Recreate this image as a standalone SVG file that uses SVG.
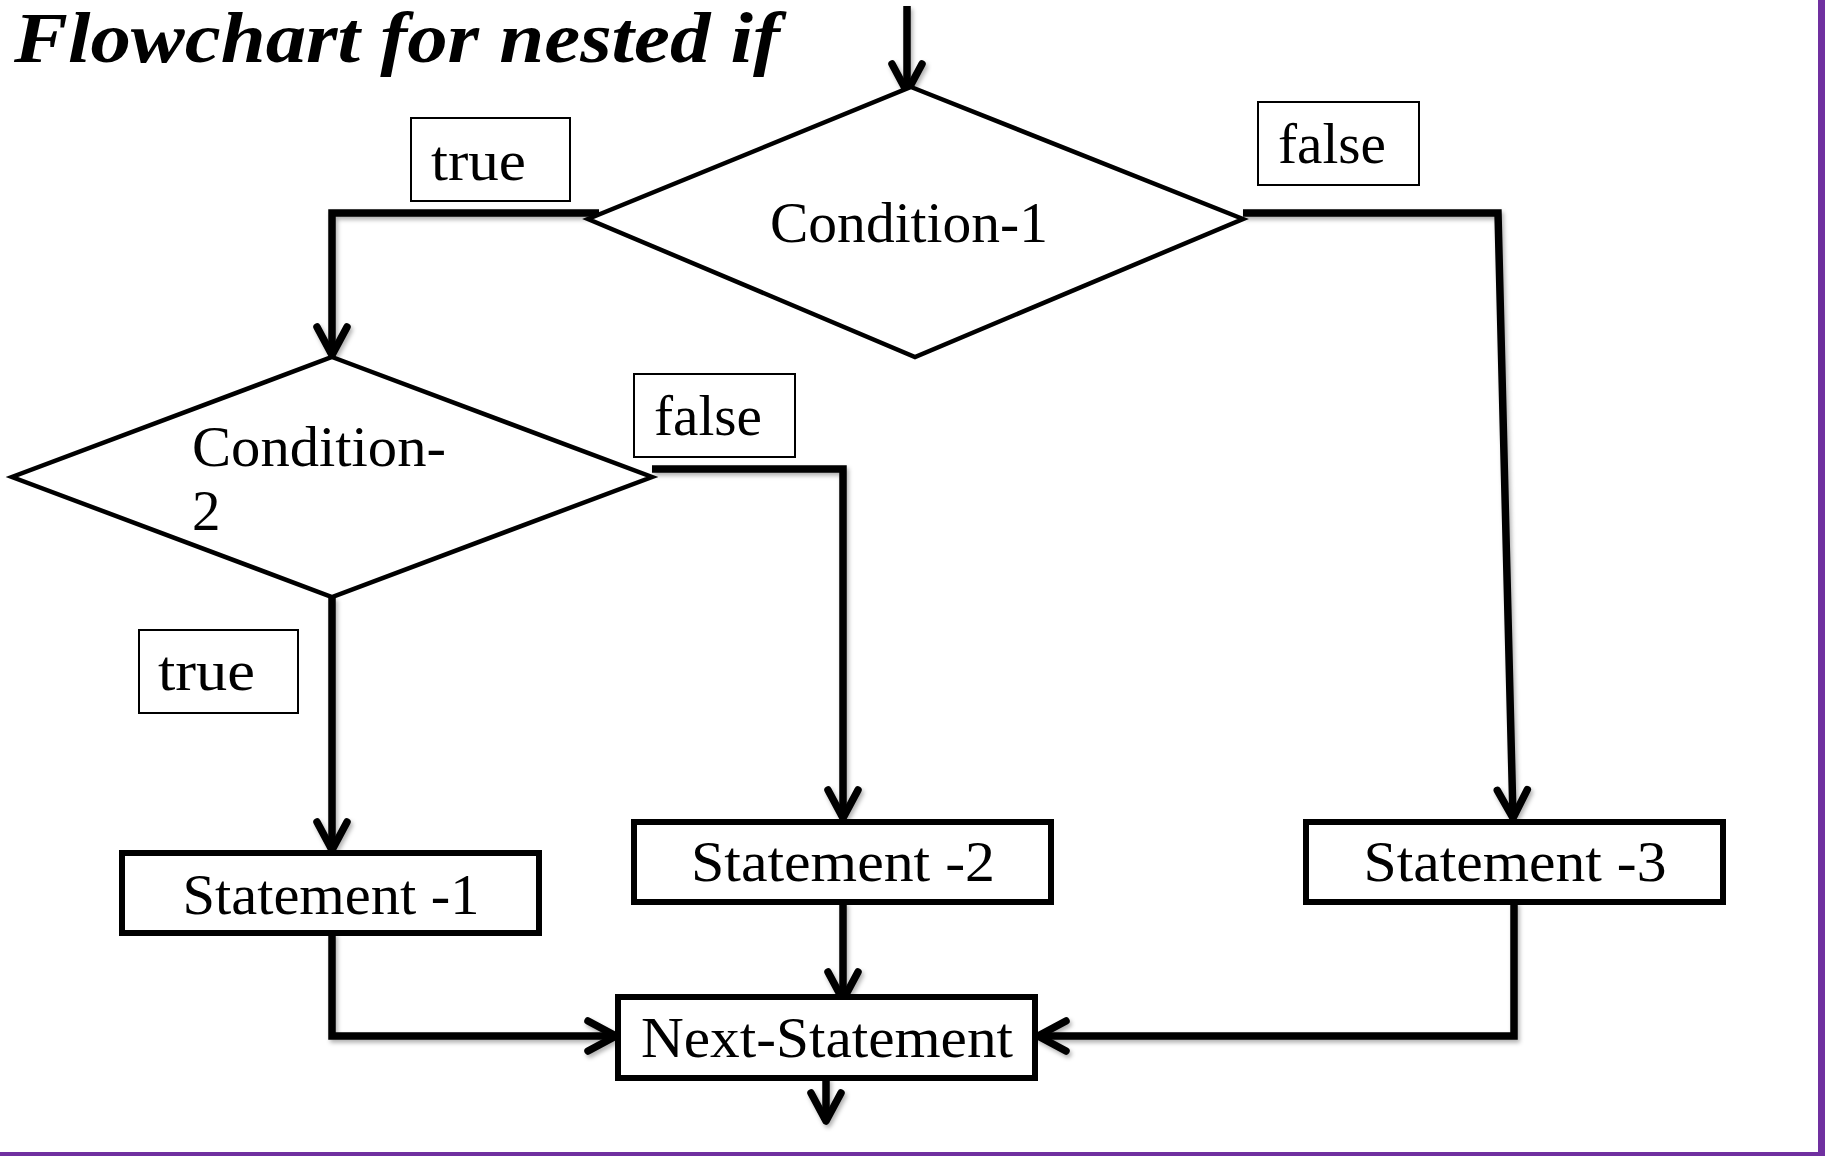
<svg xmlns="http://www.w3.org/2000/svg" width="1825" height="1156" viewBox="0 0 1825 1156">
  <style>
    .title { font-family: "Liberation Serif", "DejaVu Serif", serif; font-weight: bold; font-style: italic; font-size: 72px; fill: #000; }
    .txt { font-family: "Liberation Serif", "DejaVu Serif", serif; font-size: 57px; fill: #000; }
    .mid { text-anchor: middle; }
    .dia { fill: #fff; stroke: #000; stroke-width: 4.5; stroke-linejoin: miter; }
    .box { fill: #fff; stroke: #000; stroke-width: 6; }
    .lbl { fill: #fff; stroke: #000; stroke-width: 2; }
    .wire { fill: none; stroke: #000; stroke-width: 7.5; stroke-linejoin: miter; stroke-linecap: butt; }
    .arrow { marker-end: url(#head); }
  </style>
  <defs>
    <marker id="head" markerUnits="userSpaceOnUse" viewBox="-36 -22 44 44" refX="0" refY="0" markerWidth="44" markerHeight="44" orient="auto" overflow="visible">
      <path d="M-28,-15 L0,0 L-28,15" fill="none" stroke="#000" stroke-width="7.5" stroke-linecap="round" stroke-linejoin="round"/>
    </marker>
    <filter id="shade" x="-10%" y="-10%" width="120%" height="120%">
      <feDropShadow dx="2" dy="3" stdDeviation="2" flood-color="#000" flood-opacity="0.3"/>
    </filter>
  </defs>

  <rect width="1825" height="1156" fill="#fff"/>

  <!-- page frame edges -->
  <rect x="1818" y="0" width="7" height="1156" fill="#7030a0"/>
  <rect x="0" y="1152" width="1825" height="4" fill="#7030a0"/>

  <text class="title" x="14" y="62" textLength="766" lengthAdjust="spacingAndGlyphs">Flowchart for nested if</text>

  <!-- connectors -->
  <g id="connectors" filter="url(#shade)">
    <path class="wire arrow" d="M907,6 L907,92"/>
    <path class="wire arrow" d="M599,213 L332,213 L332,355"/>
    <path class="wire arrow" d="M1243,213 L1498,213 L1513,818"/>
    <path class="wire arrow" d="M652,469 L843,469 L843,818"/>
    <path class="wire arrow" d="M332,597 L332,850"/>
    <path class="wire arrow" d="M332,933 L332,1036 L616,1036"/>
    <path class="wire arrow" d="M843,902 L843,1000"/>
    <path class="wire arrow" d="M1514,902 L1514,1036 L1038,1036"/>
    <path class="wire arrow" d="M826,1078 L826,1121"/>
  </g>

  <g id="condition-1">
    <polygon class="dia" points="911,87 1243,219 915,357 588,219"/>
    <text class="txt mid" x="909" y="242" textLength="278" lengthAdjust="spacingAndGlyphs">Condition-1</text>
  </g>

  <g id="label-true-1">
    <rect class="lbl" x="411" y="118" width="159" height="83"/>
    <text class="txt" x="431" y="180" textLength="95" lengthAdjust="spacingAndGlyphs">true</text>
  </g>

  <g id="label-false-1">
    <rect class="lbl" x="1258" y="102" width="161" height="83"/>
    <text class="txt" x="1278" y="163" textLength="108" lengthAdjust="spacingAndGlyphs">false</text>
  </g>

  <g id="condition-2">
    <polygon class="dia" points="332,357 652,477 332,597 12,477"/>
    <text class="txt" x="192" y="466" textLength="254" lengthAdjust="spacingAndGlyphs">Condition-</text>
    <text class="txt" x="192" y="530">2</text>
  </g>

  <g id="label-false-2">
    <rect class="lbl" x="634" y="374" width="161" height="83"/>
    <text class="txt" x="654" y="435" textLength="108" lengthAdjust="spacingAndGlyphs">false</text>
  </g>

  <g id="label-true-2">
    <rect class="lbl" x="139" y="630" width="159" height="83"/>
    <text class="txt" x="158" y="690" textLength="97" lengthAdjust="spacingAndGlyphs">true</text>
  </g>

  <g id="statement-1">
    <rect class="box" x="122" y="853" width="417" height="80"/>
    <text class="txt mid" x="331" y="914" textLength="297" lengthAdjust="spacingAndGlyphs">Statement -1</text>
  </g>

  <g id="statement-2">
    <rect class="box" x="634" y="822" width="417" height="80"/>
    <text class="txt mid" x="843" y="881" textLength="304" lengthAdjust="spacingAndGlyphs">Statement -2</text>
  </g>

  <g id="statement-3">
    <rect class="box" x="1306" y="822" width="417" height="80"/>
    <text class="txt mid" x="1515" y="881" textLength="303" lengthAdjust="spacingAndGlyphs">Statement -3</text>
  </g>

  <g id="next-statement">
    <rect class="box" x="618" y="997" width="417" height="81"/>
    <text class="txt mid" x="827" y="1057" textLength="372" lengthAdjust="spacingAndGlyphs">Next-Statement</text>
  </g>
</svg>
